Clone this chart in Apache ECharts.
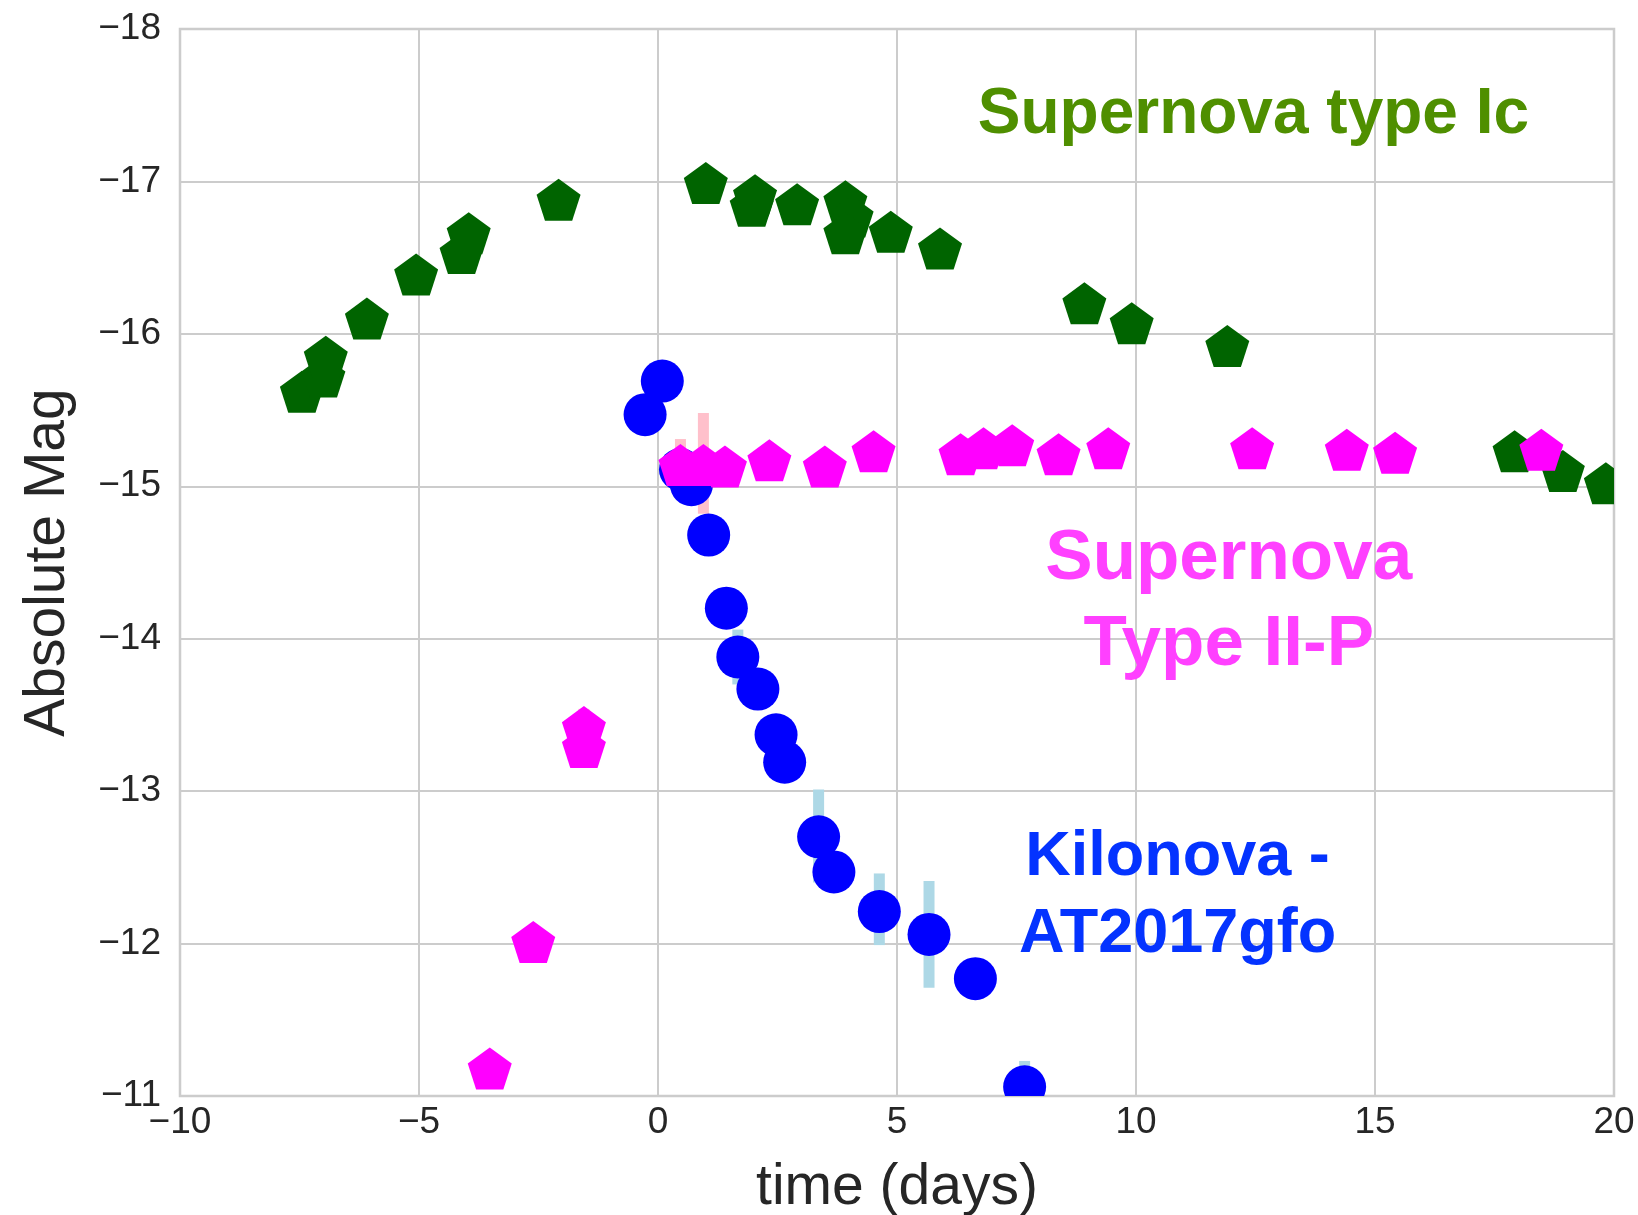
<!DOCTYPE html>
<html>
<head>
<meta charset="utf-8">
<script src="https://cdn.jsdelivr.net/npm/echarts@6/dist/echarts.min.js"></script>
<style>
  html, body { margin: 0; padding: 0; background: #ffffff; }
  #chart { width: 1638px; height: 1215px; }
</style>
</head>
<body>
<div id="chart"></div>
<script>
// Light curves: absolute magnitude against time since peak (days)
const xTicks = [-10, -5, 0, 5, 10, 15, 20];
const yTicks = [-18, -17, -16, -15, -14, -13, -12, -11];

// Supernova type Ic  [day, absolute mag]
const snIc = [
  [-7.45, -15.62], [-7.00, -15.72], [-6.95, -15.85], [-6.09, -16.10],
  [-5.06, -16.39], [-4.11, -16.53], [-3.96, -16.66], [-2.08, -16.88],
  [1.00, -16.99], [1.96, -16.84], [2.03, -16.91], [2.91, -16.85],
  [3.92, -16.87], [4.05, -16.77], [3.92, -16.66], [4.87, -16.67],
  [5.90, -16.56], [8.92, -16.20], [9.91, -16.07], [11.91, -15.92],
  [17.92, -15.23], [18.93, -15.10], [19.83, -15.02]
];

// Supernova Type II-P  [day, absolute mag]
const snIIP = [
  [-3.52, -11.18], [-2.61, -12.01], [-1.55, -13.29], [-1.55, -13.42],
  [0.47, -15.14], [0.95, -15.14], [1.40, -15.13], [2.33, -15.17],
  [3.49, -15.13], [4.51, -15.23], [6.33, -15.21], [6.81, -15.25],
  [7.41, -15.27], [8.38, -15.21], [9.42, -15.25], [12.43, -15.25],
  [14.41, -15.24], [15.42, -15.22], [18.48, -15.24]
];

// Kilonova AT2017gfo  [day, absolute mag]
const kilonova = [
  [-0.27, -15.47], [0.09, -15.69], [0.47, -15.11], [0.70, -15.01],
  [1.06, -14.68], [1.43, -14.20], [1.67, -13.88], [2.09, -13.67],
  [2.47, -13.37], [2.65, -13.19], [3.36, -12.70], [3.68, -12.47],
  [4.63, -12.21], [5.67, -12.06], [6.64, -11.77], [7.67, -11.06]
];

// Error bars  [day, brighter limit, fainter limit]
const snIIPErr = [
  [-1.55, -13.54, -13.20], [0.47, -15.31, -15.00], [0.95, -15.48, -14.82]
];
const kilonovaErr = [
  [1.67, -14.06, -13.70], [3.36, -13.01, -12.40], [4.63, -12.46, -11.99],
  [5.67, -12.41, -11.71], [7.67, -11.23, -10.90]
];

// Annotation texts, anchored in data coordinates
const notes = [
  { text: 'Supernova type Ic', at: [6.69, -17.435], color: '#4F8F00', size: 64, lineHeight: 78, align: 'left' },
  { text: 'Supernova\nType II-P', at: [11.94, -14.235], color: '#FF40FF', size: 71, lineHeight: 86, align: 'center' },
  { text: 'Kilonova -\nAT2017gfo', at: [10.87, -12.31], color: '#0433FF', size: 63, lineHeight: 77, align: 'center' }
];

const FONT = '"Liberation Sans", Arial, Helvetica, sans-serif';
const TEXT = '#262626';
const GRID = '#cccccc';

const minus = v => String(v).replace('-', '\u2212');

// Regular pentagon (point up), vertices relative to its bounding-box centre
const PENT_W = 44, PENT_H = 42;
const PENT_UNIT = [[0, -100], [95.1, -30.9], [58.8, 80.9], [-58.8, 80.9], [-95.1, -30.9]];
const PENT_SHAPE = PENT_UNIT.map(v => [v[0] * PENT_W / 190.2, (v[1] + 9.55) * PENT_H / 180.9]);

function pentagonMarker(color) {
  return function (params, api) {
    const c = api.coord([api.value(0), api.value(1)]);
    return {
      type: 'polygon',
      shape: { points: PENT_SHAPE.map(p => [c[0] + p[0], c[1] + p[1]]) },
      style: { fill: color }
    };
  };
}

function circleMarker(color, r) {
  return function (params, api) {
    const c = api.coord([api.value(0), api.value(1)]);
    return { type: 'circle', shape: { cx: c[0], cy: c[1], r: r }, style: { fill: color } };
  };
}

function errorBar(color) {
  return function (params, api) {
    const a = api.coord([api.value(0), api.value(1)]);
    const b = api.coord([api.value(0), api.value(2)]);
    const w = 11;
    return {
      type: 'rect',
      shape: { x: a[0] - w / 2, y: Math.min(a[1], b[1]), width: w, height: Math.abs(b[1] - a[1]) },
      style: { fill: color }
    };
  };
}

const chart = echarts.init(document.getElementById('chart'), null, { renderer: 'canvas' });

chart.setOption({
  animation: false,
  backgroundColor: '#ffffff',
  grid: {
    left: 180, right: 24, top: 29, bottom: 119,
    show: true, backgroundColor: '#ffffff',
    borderColor: GRID, borderWidth: 2.5,
    containLabel: false, outerBoundsMode: 'none'
  },
  xAxis: {
    type: 'value',
    min: xTicks[0], max: xTicks[xTicks.length - 1], interval: xTicks[1] - xTicks[0],
    name: 'time (days)', nameLocation: 'middle', nameGap: 92,
    nameTextStyle: { fontFamily: FONT, fontSize: 57, color: TEXT, verticalAlign: 'middle' },
    axisLine: { show: false }, axisTick: { show: false },
    axisLabel: { formatter: minus, fontFamily: FONT, fontSize: 37, color: TEXT, margin: 8 },
    splitLine: { show: true, lineStyle: { color: GRID, width: 2 } }
  },
  yAxis: {
    type: 'value', inverse: true,
    min: yTicks[0], max: yTicks[yTicks.length - 1], interval: yTicks[1] - yTicks[0],
    name: 'Absolute Mag', nameLocation: 'middle', nameGap: 132, nameRotate: 90,
    nameTextStyle: { fontFamily: FONT, fontSize: 57, color: TEXT, verticalAlign: 'middle' },
    axisLine: { show: false }, axisTick: { show: false },
    axisLabel: { formatter: minus, fontFamily: FONT, fontSize: 37, color: TEXT, margin: 19 },
    splitLine: { show: true, lineStyle: { color: GRID, width: 2 } }
  },
  series: [
    { name: 'Type II-P errors', type: 'custom', data: snIIPErr, renderItem: errorBar('#FFC0CB'),
      encode: { x: 0, y: [1, 2] }, clip: true, z: 1, silent: true },
    { name: 'Kilonova errors', type: 'custom', data: kilonovaErr, renderItem: errorBar('#ADD8E6'),
      encode: { x: 0, y: [1, 2] }, clip: true, z: 1, silent: true },
    { name: 'Supernova type Ic', type: 'custom', data: snIc, renderItem: pentagonMarker('#006400'),
      encode: { x: 0, y: 1 }, clip: true, z: 2, silent: true },
    { name: 'Kilonova AT2017gfo', type: 'custom', data: kilonova, renderItem: circleMarker('#0000FF', 21.5),
      encode: { x: 0, y: 1 }, clip: true, z: 3, silent: true },
    { name: 'Supernova Type II-P', type: 'custom', data: snIIP, renderItem: pentagonMarker('#FF00FF'),
      encode: { x: 0, y: 1 }, clip: true, z: 4, silent: true }
  ]
});

chart.setOption({
  graphic: notes.map(n => {
    const p = chart.convertToPixel({ gridIndex: 0 }, n.at);
    return {
      type: 'text', x: p[0], y: p[1], z: 100, silent: true,
      style: {
        text: n.text, fill: n.color,
        font: 'bold ' + n.size + 'px ' + FONT,
        lineHeight: n.lineHeight,
        align: n.align, verticalAlign: 'middle'
      }
    };
  })
});
</script>
</body>
</html>
